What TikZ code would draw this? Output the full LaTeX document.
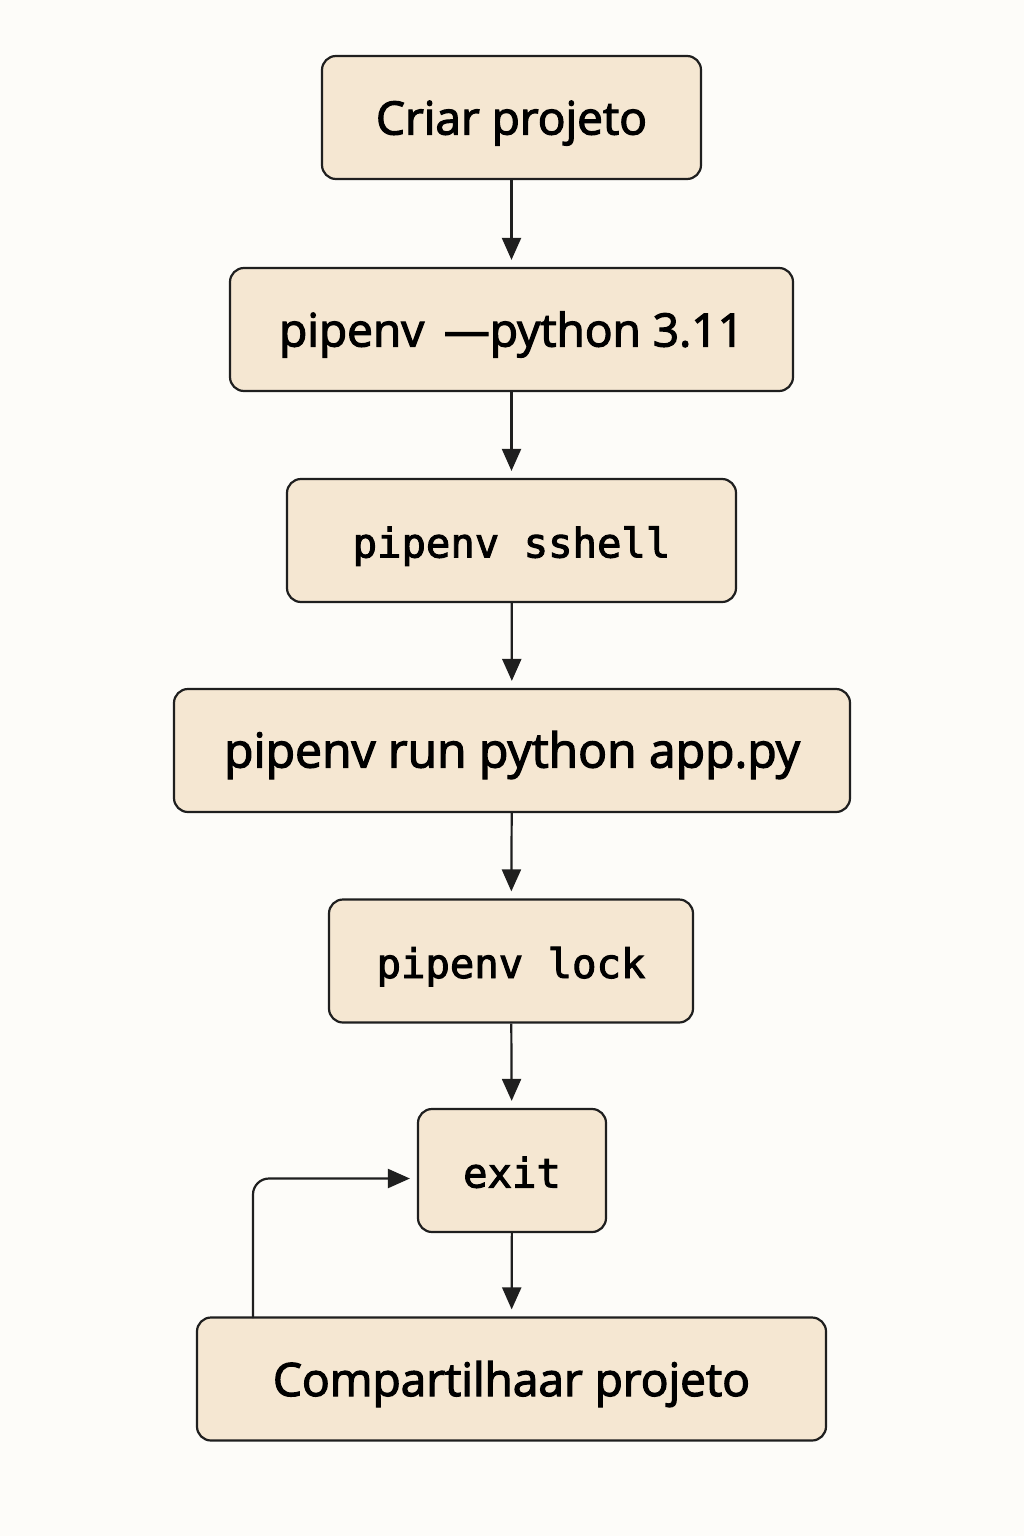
\documentclass[tikz,border=0pt]{standalone}
\usepackage{fontspec}
\newfontfamily\boxfont{Open Sans}[FakeBold=2.6]
\newfontfamily\cmdfont{DejaVu Sans Mono}[FakeBold=2.4]
\usetikzlibrary{arrows.meta,calc,positioning}
\definecolor{Ink}{HTML}{1F1F1F}
\definecolor{Paper}{HTML}{FDFCF9}
\definecolor{Sand}{HTML}{F5E7D2}
\tikzset{stage/.style={rounded corners=7pt,draw=Ink,fill=Sand,line width=1.1pt,minimum height=61.5pt,align=center,inner sep=0pt,text height=17pt,text depth=0pt,font=\boxfont\fontsize{23}{27}\selectfont},cmd/.style={stage,font=\cmdfont\fontsize{20.3}{24}\selectfont},flow/.style={-{Triangle[length=11pt,width=9.5pt]},line width=1.1pt,draw=Ink,shorten >=3.5pt}}
\begin{document}
\begin{tikzpicture}[x=.5pt,y=-.5pt]
        \fill[Paper](0,0)rectangle(1024,1536);
        \node[stage,minimum width=189.5pt](criar)at(511.5,117.5){Criar projeto};
        \node[stage,minimum width=281.5pt](python)at(511.5,329.5){pipenv \,—python 3.11};
        \node[cmd,minimum width=224.5pt](shell)at(511.5,540.5){pipenv sshell};
        \node[stage,minimum width=338pt,font=\boxfont\fontsize{24}{28}\selectfont](run)at(512,750.5){pipenv run python app.py};
        \node[cmd,minimum width=182pt](lock)at(511,961){pipenv lock};
        \node[cmd,minimum width=94pt](exit)at(512,1170.5){exit};
        \node[stage,minimum width=314.5pt](share)at(511.5,1379){Compartilhaar projeto};
        \draw[flow](criar)--(python);
        \draw[flow](python)--(shell);
        \draw[flow](shell)--(run);
        \draw[flow](run)--(lock);
        \draw[flow](lock)--(exit);
        \draw[flow](exit)--(share);
        % loop back from the last step
        \coordinate(back)at(253,1318);
        \coordinate(into)at($(exit.west)+(0,8)$);
        \draw[flow,rounded corners=8pt](back)|-(into);
      \end{tikzpicture}
\end{document}
